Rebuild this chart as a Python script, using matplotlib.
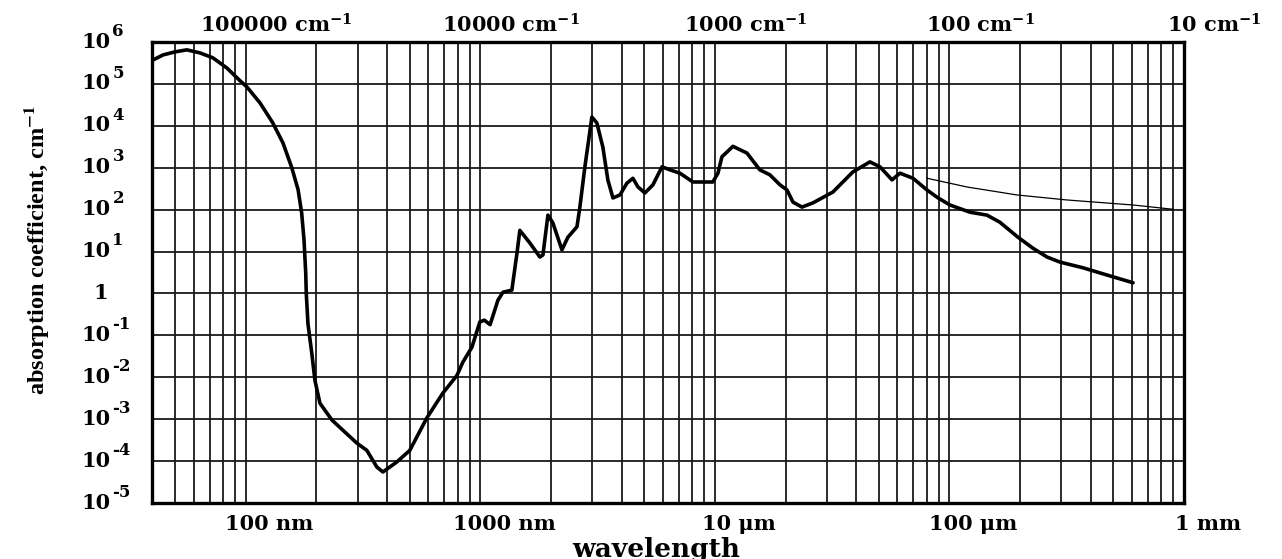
import numpy as np
import matplotlib
matplotlib.use('Agg')
import matplotlib.pyplot as plt
from matplotlib.ticker import LogLocator, NullLocator, NullFormatter

# ---- data ----
wavelength_nm = [40.1, 44.3, 49.8, 56.0, 63.7, 72.3, 83.0, 94.3, 101, 115, 130, 144, 157,
                 167, 173, 177, 180, 181, 184, 191, 197, 207, 233, 297, 328, 362, 384,
                 440, 500, 591, 692, 794, 842, 920, 995, 1040, 1100, 1188, 1248, 1362,
                 1432, 1473, 1626, 1793, 1848, 1941, 2038, 2227, 2362, 2581, 2656, 2790,
                 2988, 3138, 3328, 3496, 3674, 3936, 4217, 4470, 4695, 5027, 5440, 5946,
                 6430, 7094, 8057, 9800, 10300, 10710, 11930, 13690, 15550, 17160, 18940,
                 20290, 21520, 23500, 26180, 31850, 38740, 45800, 50560, 56890, 61520,
                 69840, 80170, 89330, 100500, 122200, 144500, 164100, 195900, 227000,
                 260500, 296000, 370700, 469700, 606600]
absorption = [3.7e5, 4.9e5, 5.8e5, 6.5e5, 5.5e5, 4.2e5, 2.4e5, 1.2e5, 8.5e4, 3.5e4, 1.2e4,
              3.9e3, 1.0e3, 3.0e2, 83, 19, 3.1, 1.0, 0.19, 0.038, 0.0085, 0.0024, 9.5e-4,
              2.7e-4, 1.8e-4, 7.2e-5, 5.5e-5, 9.5e-5, 1.8e-4, 1.07e-3, 4.2e-3, 0.011, 0.023,
              0.052, 0.21, 0.23, 0.18, 0.69, 1.07, 1.2, 9.1, 32, 16, 7.4, 8.3, 74, 48, 11,
              22, 39, 115, 1050, 16200, 11700, 3100, 510, 190, 224, 430, 560, 350, 250,
              390, 1050, 890, 740, 457, 457, 740, 1820, 3240, 2240, 890, 676, 390, 295,
              151, 115, 145, 263, 794, 1380, 1050, 513, 741, 562, 295, 191, 129, 87, 74,
              50, 22, 12, 7.4, 5.6, 4.1, 2.75, 1.8]

thin_wavelength_nm = [80170, 118800, 194100, 317000, 606600, 897000]
thin_absorption = [562, 347, 224, 170, 129, 102]

x_tick_values = [100, 1000, 1e4, 1e5, 1e6]
x_tick_labels = ['100 nm', '1000 nm', '10 μm', '100 μm', '1 mm']

wavenumber_values = [100000, 10000, 1000, 100, 10]
wavenumber_labels = ['100000 cm$^{-1}$', '10000 cm$^{-1}$', '1000 cm$^{-1}$',
                     '100 cm$^{-1}$', '10 cm$^{-1}$']

y_tick_values = [1e-5, 1e-4, 1e-3, 1e-2, 1e-1, 1, 1e1, 1e2, 1e3, 1e4, 1e5, 1e6]
y_tick_bases = ['10', '10', '10', '10', '10', '1', '10', '10', '10', '10', '10', '10']
y_tick_exponents = ['-5', '-4', '-3', '-2', '-1', '', '1', '2', '3', '4', '5', '6']

# ---- style ----
plt.rcParams['mathtext.fontset'] = 'custom'
plt.rcParams['mathtext.rm'] = 'DejaVu Serif:bold'
plt.rcParams['mathtext.it'] = 'DejaVu Serif:bold'
plt.rcParams['mathtext.bf'] = 'DejaVu Serif:bold'
plt.rcParams['mathtext.default'] = 'rm'

tick_font = dict(family='DejaVu Serif', weight='bold', size=15)
exp_font = dict(family='DejaVu Serif', weight='bold', size=12)

fig = plt.figure(figsize=(12.82, 5.59), dpi=100)
ax = fig.add_axes([152 / 1282, 56 / 559, 1032 / 1282, 461 / 559])
ax.set_xscale('log')
ax.set_yscale('log')
ax.set_xlim(39.8, 1e6)
ax.set_ylim(1e-5, 1e6)

ax.xaxis.set_major_locator(LogLocator(base=10, numticks=30))
ax.xaxis.set_minor_locator(LogLocator(base=10, subs=np.arange(2, 10), numticks=30))
ax.yaxis.set_major_locator(LogLocator(base=10, numticks=30))
ax.yaxis.set_minor_locator(NullLocator())
for a in (ax.xaxis, ax.yaxis):
    a.set_major_formatter(NullFormatter())
    a.set_minor_formatter(NullFormatter())
ax.tick_params(which='both', length=0)
ax.grid(True, which='both', axis='x', color='#1a1a1a', lw=1.3)
ax.grid(True, which='major', axis='y', color='#1a1a1a', lw=1.3)
for s in ax.spines.values():
    s.set_linewidth(2.4)
    s.set_color('black')

ax.plot(wavelength_nm, absorption, color='black', lw=2.6, solid_joinstyle='round',
        solid_capstyle='round', zorder=3)
ax.plot(thin_wavelength_nm, thin_absorption, color='black', lw=0.9, zorder=3)

# bottom wavelength labels
for v, lab in zip(x_tick_values, x_tick_labels):
    ax.annotate(lab, xy=(v, 0), xycoords=('data', 'axes fraction'),
                xytext=(17, -19.5), textcoords='offset points', ha='center',
                va='baseline', annotation_clip=False, **tick_font)

# top wavenumber labels
for k, lab in zip(wavenumber_values, wavenumber_labels):
    ax.annotate(lab, xy=(1e7 / k, 1), xycoords=('data', 'axes fraction'),
                xytext=(22, 6.5), textcoords='offset points', ha='center',
                va='baseline', annotation_clip=False, **tick_font)

# left absorption labels: base + raised exponent
for v, base, ex in zip(y_tick_values, y_tick_bases, y_tick_exponents):
    if ex:
        ax.annotate(base, xy=(0, v), xycoords=('axes fraction', 'data'),
                    xytext=(-29.5, -4), textcoords='offset points', ha='right',
                    va='baseline', annotation_clip=False, **tick_font)
        ax.annotate(ex, xy=(0, v), xycoords=('axes fraction', 'data'),
                    xytext=(-28.5, 4.5), textcoords='offset points', ha='left',
                    va='baseline', annotation_clip=False, **exp_font)
    else:
        ax.annotate(base, xy=(0, v), xycoords=('axes fraction', 'data'),
                    xytext=(-37, -4), textcoords='offset points', ha='center',
                    va='baseline', annotation_clip=False, **tick_font)

fig.text(656 / 1282, 2.5 / 559, 'wavelength', ha='center', va='baseline',
         family='DejaVu Serif', weight='bold', size=19)
fig.text(37 / 1282, 1 - 250 / 559, 'absorption coefficient, cm$^{\\mathbf{-1}}$',
         rotation=90, ha='center', va='center', family='Liberation Serif',
         weight='bold', size=17.5, math_fontfamily='stix')

fig.savefig('out.png', dpi=100)
